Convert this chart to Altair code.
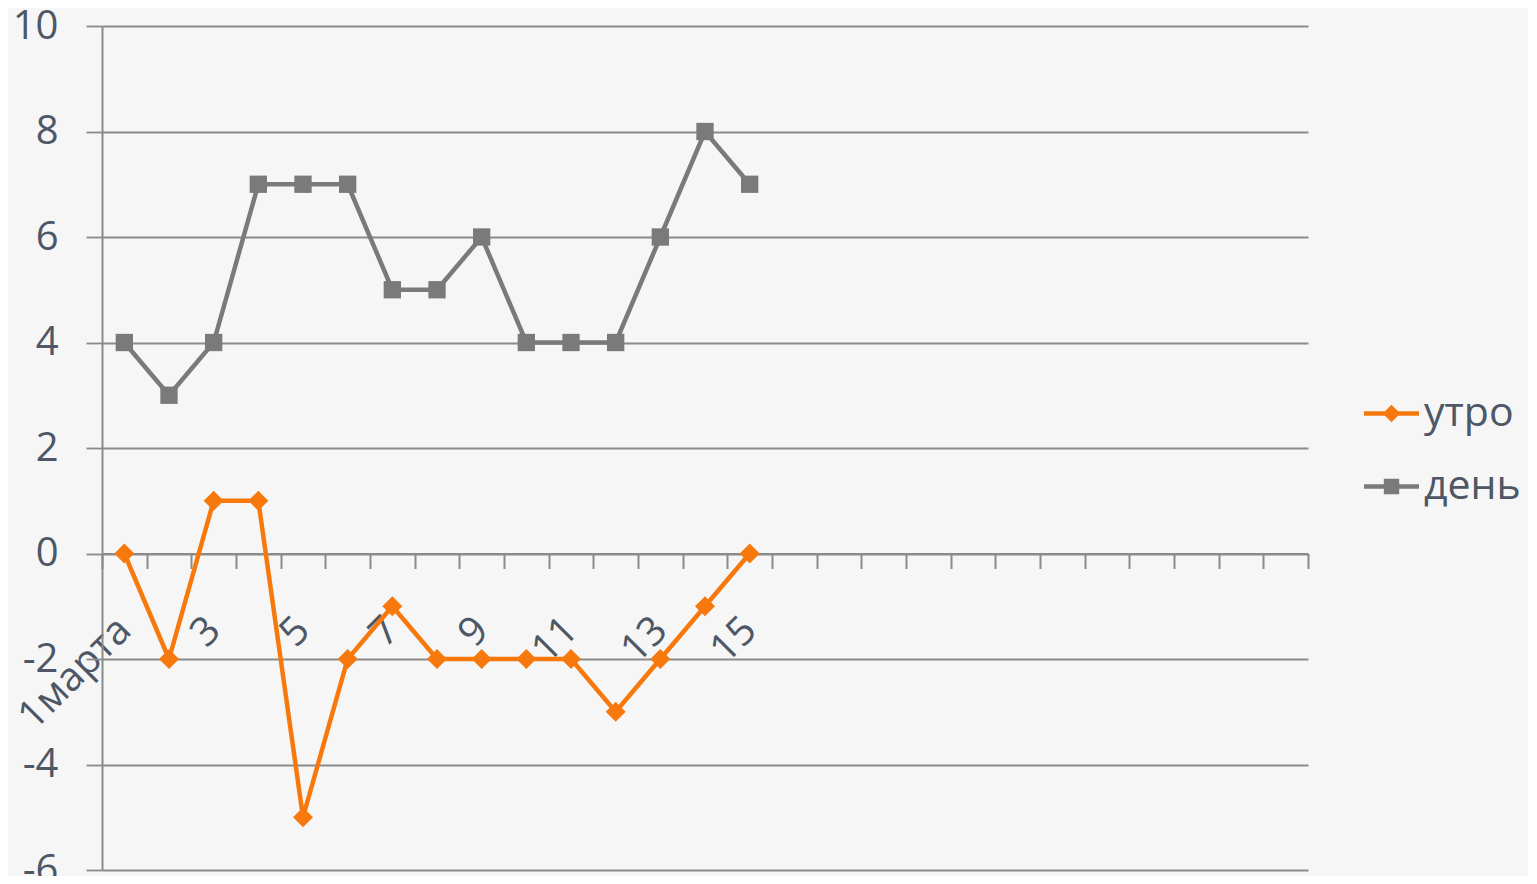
import json
import altair as alt
import pandas as pd

# ---- data ----
slots = list(range(1, 28))                      # category slots on the x axis
x_labels = ["1марта", "", "3", "", "5", "", "7", "", "9", "", "11", "", "13", "", "15"] + [""] * 12
days = list(range(1, 16))
morning = [0, -2, 1, 1, -5, -2, -1, -2, -2, -2, -2, -3, -2, -1, 0]   # утро
daytime = [4, 3, 4, 7, 7, 7, 5, 5, 6, 4, 4, 4, 6, 8, 7]             # день
series = ["утро", "день"]
colors = ["#f7790d", "#7a7a7a"]
y_ticks = list(range(-6, 11, 2))

rows = []
for d, m, t in zip(days, morning, daytime):
    rows.append({"day": d, "series": "утро", "value": m})
    rows.append({"day": d, "series": "день", "value": t})
df = pd.DataFrame(rows)

GRID = "#8a8a8a"
TEXT = "#4d5766"
FONT = "Open Sans"

label_expr = json.dumps(x_labels, ensure_ascii=False) + "[datum.value - 1]"

x_enc = alt.X(
    "day:O",
    scale=alt.Scale(type="band", domain=slots, paddingInner=0, paddingOuter=0),
    axis=alt.Axis(
        title=None, grid=False, offset=-316.5, tickBand="extent",
        labelAngle=315, labelAlign="right", labelBaseline="middle",
        labelExpr=label_expr, labelFontSize=40, labelFont=FONT, labelColor=TEXT,
        labelPadding=55, labelOverlap=False, labelFlush=False,
        domainColor=GRID, domainWidth=2, tickColor=GRID, tickWidth=2, tickSize=15,
    ),
)
y_enc = alt.Y(
    "value:Q",
    scale=alt.Scale(domain=[-6, 10], nice=False, zero=False),
    axis=alt.Axis(
        title=None, values=y_ticks, grid=True, gridColor=GRID, gridWidth=1.8,
        tickColor=GRID, tickWidth=1.8, tickSize=16, domainColor=GRID, domainWidth=2,
        labelFontSize=40, labelFont=FONT, labelColor=TEXT, labelPadding=28,
        labelExpr="replace(datum.label, '\u2212', '-')",
    ),
)
color_enc = alt.Color("series:N", scale=alt.Scale(domain=series, range=colors))

base = alt.Chart(df)

lines = base.mark_line(strokeWidth=4.5).encode(
    x=x_enc, y=y_enc, color=color_enc, detail="series:N"
)

pts_morning = base.transform_filter(alt.datum.series == "утро").mark_point(
    filled=True, opacity=1, size=400, shape="diamond"
).encode(x=x_enc, y=y_enc, color=color_enc)

pts_day = base.transform_filter(alt.datum.series == "день").mark_point(
    filled=True, opacity=1, size=300, shape="square"
).encode(x=x_enc, y=y_enc, color=color_enc)

diamond_sym = "M-1,-0.08H1V0.08H-1Z M0,-0.32L0.32,0L0,0.32L-0.32,0Z"
square_sym = "M-1,-0.08H1V0.08H-1Z M-0.28,-0.28H0.28V0.28H-0.28Z"

legend_layer = base.mark_point(filled=True, opacity=0, size=1).encode(
    x=x_enc, y=y_enc,
    color=alt.Color("series:N", scale=alt.Scale(domain=series, range=colors),
                    legend=alt.Legend(title=None)),
    shape=alt.Shape("series:N", scale=alt.Scale(domain=series, range=[diamond_sym, square_sym]),
                    legend=alt.Legend(title=None)),
)

chart = (
    alt.layer(lines, pts_morning, pts_day, legend_layer)
    .properties(
        width=1206, height=844,
        autosize=alt.AutoSizeParams(type="none"),
        padding={"left": 94, "top": 18, "right": 220, "bottom": 6},
    )
    .configure(background="#f6f6f6")
    .configure_view(stroke=None)
    .configure_legend(
        orient="none", legendX=1262, legendY=360, padding=0,
        symbolSize=3025, symbolStrokeWidth=0, symbolOpacity=1,
        labelFontSize=41, labelFont=FONT, labelColor=TEXT, labelOffset=5,
        rowPadding=25, labelLimit=300,
    )
)

chart.save("out.html", embed_options={"renderer": "svg", "actions": False})
